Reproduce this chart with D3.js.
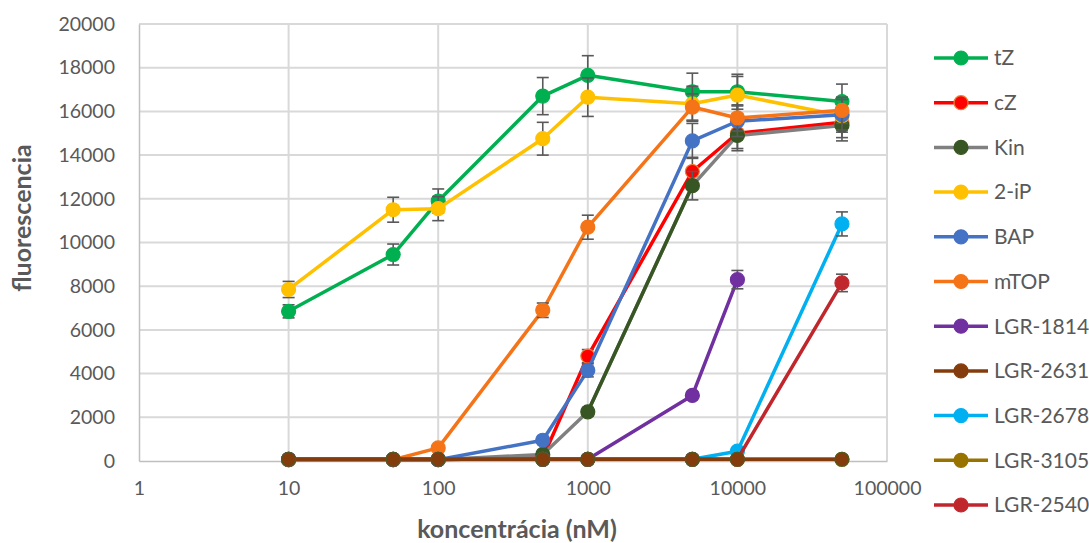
<!DOCTYPE html>
<html>
<head>
<meta charset="utf-8">
<script src="https://cdn.jsdelivr.net/npm/d3@7"></script>
<style>
  body { margin: 0; background: #fff; }
  text { font-family: Lato, "Open Sans", sans-serif; fill: #595959; }
</style>
</head>
<body>
<svg id="chart" width="1089" height="543"></svg>
<script>
// concentrations (nM)
var conc = [10, 50, 100, 500, 1000, 5000, 10000, 50000]
var yTicks = [0, 2000, 4000, 6000, 8000, 10000, 12000, 14000, 16000, 18000, 20000]
var xTicks = [1, 10, 100, 1000, 10000, 100000]

var names = ["tZ", "cZ", "Kin", "2-iP", "BAP", "mTOP", "LGR-1814", "LGR-2631", "LGR-2678", "LGR-3105", "LGR-2540"]

var tZ       = [6850, 9450, 11900, 16700, 17650, 16900, 16900, 16450]
var tZ_err   = [300, 480, 550, 850, 900, 850, 800, 800]
var cZ       = [60, 60, 60, 150, 4800, 13250, 15000, 15500]
var cZ_err   = [20, 20, 20, 50, 300, 650, 700, 700]
var kin      = [60, 60, 60, 300, 2250, 12600, 14900, 15350]
var kin_err  = [20, 20, 20, 50, 200, 650, 700, 700]
var iP       = [7850, 11500, 11550, 14750, 16650, 16350, 16750, 15800]
var iP_err   = [370, 570, 550, 750, 880, 800, 850, 750]
var bap      = [60, 60, 60, 950, 4150, 14650, 15550, 15850]
var bap_err  = [20, 20, 20, 100, 300, 800, 700, 700]
var mtop     = [60, 60, 600, 6900, 10700, 16200, 15700, 16050]
var mtop_err = [20, 20, 60, 330, 550, 600, 600, 600]
var lgr1814     = [80, 80, 80, 80, 80, 3000, 8300, null]
var lgr1814_err = [10, 10, 10, 10, 10, 150, 420, null]
var lgr2631     = [80, 80, 80, 80, 80, 80, 80, 80]
var lgr2631_err = [10, 10, 10, 10, 10, 10, 10, 10]
var lgr2678     = [80, 80, 80, 80, 80, 80, 450, 10850]
var lgr2678_err = [10, 10, 10, 10, 10, 10, 40, 550]
var lgr3105     = [80, 80, 80, 80, 80, 80, 80, 80]
var lgr3105_err = [10, 10, 10, 10, 10, 10, 10, 10]
var lgr2540     = [80, 80, 80, 80, 80, 80, 80, 8150]
var lgr2540_err = [10, 10, 10, 10, 10, 10, 10, 400]

var lineColors   = ["#00B050", "#FF0000", "#808080", "#FFC000", "#4472C4", "#F57418", "#7030A0", "#843C0C", "#00B0F0", "#997300", "#C0272D"]
var markerColors = ["#00B050", "#FF0000", "#375623", "#FFC000", "#4472C4", "#F57418", "#7030A0", "#843C0C", "#00B0F0", "#997300", "#C0272D"]
var markerStroke = ["#00B050", "#ED7D31", "#375623", "#FFC000", "#4472C4", "#F57418", "#7030A0", "#4E5B23", "#00B0F0", "#997300", "#C0272D"]
// Kin has one segment (1000 -> 5000) formatted dark green in the original
var segColor = {2: {4: "#375623"}}

var values = [tZ, cZ, kin, iP, bap, mtop, lgr1814, lgr2631, lgr2678, lgr3105, lgr2540]
var errors = [tZ_err, cZ_err, kin_err, iP_err, bap_err, mtop_err, lgr1814_err, lgr2631_err, lgr2678_err, lgr3105_err, lgr2540_err]
// drawing order (brown baseline sits on top of the olive one)
var drawOrder = [9, 0, 1, 2, 3, 4, 5, 6, 8, 10, 7]

var svg = d3.select("#chart")
var plotLeft = 139, plotRight = 887, plotTop = 24, plotBottom = 461

var x = d3.scaleLog().domain([1, 100000]).range([plotLeft, plotRight])
var y = d3.scaleLinear().domain([0, 20000]).range([plotBottom, plotTop])

// gridlines
svg.append("g").selectAll("line").data(yTicks.slice(1)).join("line")
    .attr("x1", plotLeft).attr("x2", plotRight)
    .attr("y1", d => y(d)).attr("y2", d => y(d))
    .attr("stroke", "#D9D9D9").attr("stroke-width", 2)
svg.append("g").selectAll("line").data(xTicks.slice(1)).join("line")
    .attr("x1", d => x(d)).attr("x2", d => x(d))
    .attr("y1", plotTop).attr("y2", plotBottom)
    .attr("stroke", "#D9D9D9").attr("stroke-width", 2)

// axes
var yAxis = svg.append("g").attr("transform", "translate(" + plotLeft + ",0)")
    .call(d3.axisLeft(y).tickValues(yTicks).tickSize(0).tickPadding(24).tickFormat(d3.format("d")))
var xAxis = svg.append("g").attr("transform", "translate(0," + plotBottom + ")")
    .call(d3.axisBottom(x).tickValues(xTicks).tickSize(0).tickPadding(20).tickFormat(d3.format("d")))
yAxis.select(".domain").attr("stroke", "#BFBFBF").attr("stroke-width", 1.5)
xAxis.select(".domain").attr("stroke", "#BFBFBF").attr("stroke-width", 1.5)
svg.selectAll(".tick text").style("font-size", "19.5px").attr("fill", "#595959")

// axis titles
svg.append("text").attr("x", 517).attr("y", 538)
    .attr("text-anchor", "middle").style("font-size", "25px").style("font-weight", "bold")
    .text("koncentrácia (nM)")
svg.append("text").attr("transform", "translate(31,218) rotate(-90)")
    .attr("text-anchor", "middle").style("font-size", "25px").style("font-weight", "bold")
    .text("fluorescencia")

var line = d3.line()
    .defined(d => d.v != null)
    .x(d => x(d.c)).y(d => y(d.v))

drawOrder.forEach(function(i){
    var pts = conc.map((c, j) => ({c: c, v: values[i][j], e: errors[i][j]}))
    var g = svg.append("g")
    g.append("path").datum(pts)
        .attr("d", line)
        .attr("fill", "none")
        .attr("stroke", lineColors[i])
        .attr("stroke-width", 3.5)
        .attr("stroke-linejoin", "round")
    if (segColor[i]) {
        Object.keys(segColor[i]).forEach(function(k){
            k = +k
            g.append("path").datum([pts[k], pts[k + 1]])
                .attr("d", line)
                .attr("fill", "none")
                .attr("stroke", segColor[i][k])
                .attr("stroke-width", 3.5)
        })
    }
    var ok = pts.filter(d => d.v != null)
    var eb = g.append("g").attr("stroke", "#595959").attr("stroke-width", 1.6)
    eb.selectAll("line.bar").data(ok).join("line").attr("class", "bar")
        .attr("x1", d => x(d.c)).attr("x2", d => x(d.c))
        .attr("y1", d => y(d.v - d.e)).attr("y2", d => y(d.v + d.e))
    eb.selectAll("line.capT").data(ok).join("line").attr("class", "capT")
        .attr("x1", d => x(d.c) - 6).attr("x2", d => x(d.c) + 6)
        .attr("y1", d => y(d.v + d.e)).attr("y2", d => y(d.v + d.e))
    eb.selectAll("line.capB").data(ok).join("line").attr("class", "capB")
        .attr("x1", d => x(d.c) - 6).attr("x2", d => x(d.c) + 6)
        .attr("y1", d => y(d.v - d.e)).attr("y2", d => y(d.v - d.e))
    g.selectAll("circle").data(ok).join("circle")
        .attr("cx", d => x(d.c)).attr("cy", d => y(d.v))
        .attr("r", 7)
        .attr("fill", markerColors[i])
        .attr("stroke", markerStroke[i])
        .attr("stroke-width", 1.2)
})

// legend
var legend = svg.append("g").selectAll("g").data(names).join("g")
    .attr("transform", (d, i) => "translate(934," + (58 + i * 44.7) + ")")
legend.append("line")
    .attr("x1", 0).attr("x2", 54)
    .attr("stroke", (d, i) => lineColors[i]).attr("stroke-width", 3.5)
legend.append("circle")
    .attr("cx", 27).attr("r", 7)
    .attr("fill", (d, i) => markerColors[i])
    .attr("stroke", (d, i) => i == 7 ? markerColors[i] : markerStroke[i]).attr("stroke-width", 1.2)
legend.append("text")
    .attr("x", 60).attr("dy", "0.35em")
    .style("font-size", "21px")
    .text(d => d)
</script>
</body>
</html>
